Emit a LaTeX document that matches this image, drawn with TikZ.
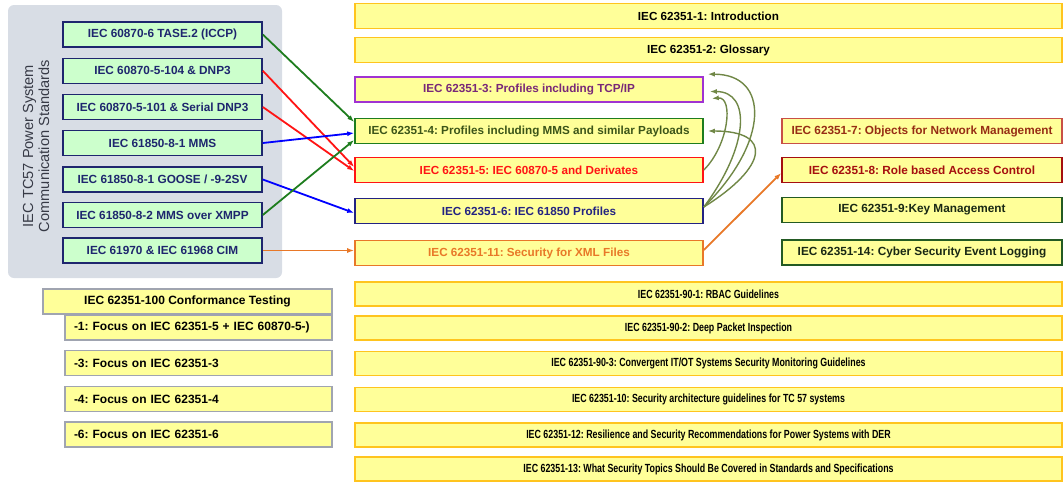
\documentclass[tikz,border=0pt]{standalone}
\usepackage{fontspec}
\setmainfont{Liberation Sans}
\newfontfamily\narrowsans[FakeStretch=0.75]{Liberation Sans}
\usetikzlibrary{arrows.meta}

\definecolor{panelgray}{RGB}{216,221,229}
\definecolor{panelink}{RGB}{55,58,70}
\definecolor{commgreen}{RGB}{204,255,204}
\definecolor{commblue}{RGB}{30,38,110}
\definecolor{partyellow}{RGB}{255,255,153}
\definecolor{partorange}{RGB}{255,196,30}
\definecolor{partpurple}{RGB}{160,50,210}
\definecolor{textpurple}{RGB}{120,40,120}
\definecolor{partgreen}{RGB}{30,125,30}
\definecolor{textolive}{RGB}{60,85,25}
\definecolor{partred}{RGB}{255,20,20}
\definecolor{partnavy}{RGB}{35,35,130}
\definecolor{xmlorange}{RGB}{232,120,40}
\definecolor{nmbrown}{RGB}{200,80,70}
\definecolor{textbrown}{RGB}{150,45,20}
\definecolor{rbacred}{RGB}{165,15,15}
\definecolor{darkgreen}{RGB}{35,90,35}
\definecolor{textdark}{RGB}{25,40,20}
\definecolor{testgray}{RGB}{160,164,176}
\definecolor{olivearrow}{RGB}{112,135,70}

\tikzset{
  stdbox/.style={draw, line width=1.6pt, fill=partyellow, minimum height=25pt,
    inner sep=0pt, font=\bfseries\fontsize{11.7}{13}\selectfont},
  commbox/.style={stdbox, draw=commblue, fill=commgreen, text=commblue,
    minimum width=199pt, font=\bfseries\fontsize{11.8}{13}\selectfont},
  partbox/.style={stdbox, draw=partorange, minimum width=707pt},
  midbox/.style={stdbox, minimum width=348pt},
  sidebox/.style={stdbox, minimum width=280pt, font=\bfseries\fontsize{11.8}{13}\selectfont},
  widebox/.style={partbox, minimum height=24pt, font=\narrowsans\bfseries\fontsize{11.8}{13}\selectfont},
  testbox/.style={stdbox, draw=testgray, line width=1.3pt, font=\bfseries\fontsize{12}{13}\selectfont},
  focusbox/.style={testbox, text width=249pt, align=left, inner xsep=9pt},
  link/.style={line width=1.8pt, -{Latex[length=7pt,width=5pt]}}
}

\begin{document}
\frenchspacing
\begin{tikzpicture}[x=1pt, y=-1pt]
\useasboundingbox (0, 0) rectangle (1064, 482);

\node [fill=panelgray, rounded corners=6pt, minimum width=274pt, minimum height=273pt] (tc57) at (145, 141.5) {};
\node [rotate=90, align=center, text=panelink, font=\fontsize{14.6}{16}\selectfont] (tc57title) at (36, 146) {IEC TC57 Power System\\Communication Standards};

\node [commbox] (tase)  at (162.5, 34.5)  {IEC 60870-6 TASE.2 (ICCP)};
\node [commbox] (iec104) at (162.5, 70.8)  {IEC 60870-5-104 \& DNP3};
\node [commbox] (iec101) at (162.5, 107)   {IEC 60870-5-101 \& Serial DNP3};
\node [commbox] (mms)   at (162.5, 143)   {IEC 61850-8-1 MMS};
\node [commbox] (goose) at (162.5, 179.5) {IEC 61850-8-1 GOOSE / -9-2SV};
\node [commbox] (xmpp)  at (162.5, 215)   {IEC 61850-8-2 MMS over XMPP};
\node [commbox] (cim)   at (162.5, 250.5) {IEC 61970 \& IEC 61968 CIM};

\node [partbox] (p1) at (708.5, 16) {IEC 62351-1: Introduction};
\node [partbox] (p2) at (708.5, 50) {IEC 62351-2: Glossary};

\node [midbox, draw=partpurple, text=textpurple] (p3)  at (529, 89.5) {IEC 62351-3: Profiles including TCP/IP};
\node [midbox, draw=partgreen, text=textolive]   (p4)  at (529, 131)  {IEC 62351-4: Profiles including MMS and similar Payloads};
\node [midbox, draw=partred, text=partred]       (p5)  at (529, 170)  {IEC 62351-5: IEC 60870-5 and Derivates};
\node [midbox, draw=partnavy, text=partnavy]     (p6)  at (529, 211)  {IEC 62351-6: IEC 61850 Profiles};
\node [midbox, draw=xmlorange, text=xmlorange]   (p11) at (529, 253)  {IEC 62351-11: Security for XML Files};

\node [sidebox, draw=nmbrown, text=textbrown]  (p7)  at (922, 131)   {IEC 62351-7: Objects for Network Management};
\node [sidebox, draw=rbacred, text=rbacred]    (p8)  at (922, 170)   {IEC 62351-8: Role based Access Control};
\node [sidebox, draw=darkgreen, text=textdark] (p9)  at (922, 210)   {IEC 62351-9:Key Management};
\node [sidebox, draw=darkgreen, text=textdark] (p14) at (922, 252.5) {IEC 62351-14: Cyber Security Event Logging};

\node [widebox] (p901) at (708.5, 294)   {IEC 62351-90-1: RBAC Guidelines};
\node [widebox] (p902) at (708.5, 328)   {IEC 62351-90-2: Deep Packet Inspection};
\node [widebox] (p903) at (708.5, 363.5) {IEC 62351-90-3: Convergent IT/OT Systems Security Monitoring Guidelines};
\node [widebox] (p10)  at (708.5, 399.5) {IEC 62351-10: Security architecture guidelines for TC 57 systems};
\node [widebox] (p12)  at (708.5, 435)   {IEC 62351-12: Resilience and Security Recommendations for Power Systems with DER};
\node [widebox] (p13)  at (708.5, 469)   {IEC 62351-13: What Security Topics Should Be Covered in Standards and Specifications};

\node [testbox, minimum width=289pt] (p100) at (187.5, 301.5) {IEC 62351-100 Conformance Testing};
\node [focusbox] (t1) at (198.5, 327.5) {-1: Focus on IEC 62351-5 + IEC 60870-5-)};
\node [focusbox] (t3) at (198.5, 363)   {-3: Focus on IEC 62351-3};
\node [focusbox] (t4) at (198.5, 399)   {-4: Focus on IEC 62351-4};
\node [focusbox] (t6) at (198.5, 434.5) {-6: Focus on IEC 62351-6};

\draw [link, draw=partgreen] (tase.east) -- ([yshift=9pt]p4.west);
\draw [link, draw=partred] (iec104.east) -- ([yshift=3pt]p5.west);
\draw [link, draw=partred] (iec101.east) -- ([yshift=-1pt]p5.west);
\draw [link, draw=blue] (mms.east) -- ([yshift=-2pt]p4.west);
\draw [link, draw=blue] (goose.east) -- ([yshift=-2pt]p6.west);
\draw [link, draw=partgreen] (xmpp.east) -- ([yshift=-9pt]p4.west);
\draw [link, draw=xmlorange] (cim.east) -- (cim.east -| p11.west);
\draw [link, draw=xmlorange] ([yshift=3pt]p11.east) -- ([yshift=-3pt]p8.west);

\draw [link, draw=olivearrow, line width=1.4pt] ([yshift=4pt]p6.east) .. controls +(66,-65) and +(62,0) .. ([shift={(4pt,2pt)}]p3.north east);
\draw [link, draw=olivearrow, line width=1.4pt] ([yshift=4pt]p6.east) .. controls +(45,-60) and +(42,0) .. ([shift={(6pt,-2pt)}]p3.east);
\draw [link, draw=olivearrow, line width=1.4pt] ([yshift=4pt]p6.east) .. controls +(64,-40) and +(66,0) .. ([xshift=4pt]p4.east);
\draw [link, draw=olivearrow, line width=1.4pt] (p5.east) .. controls +(25,-25) and +(22,-2) .. ([shift={(8pt,-9pt)}]p3.east);
\end{tikzpicture}
\end{document}
